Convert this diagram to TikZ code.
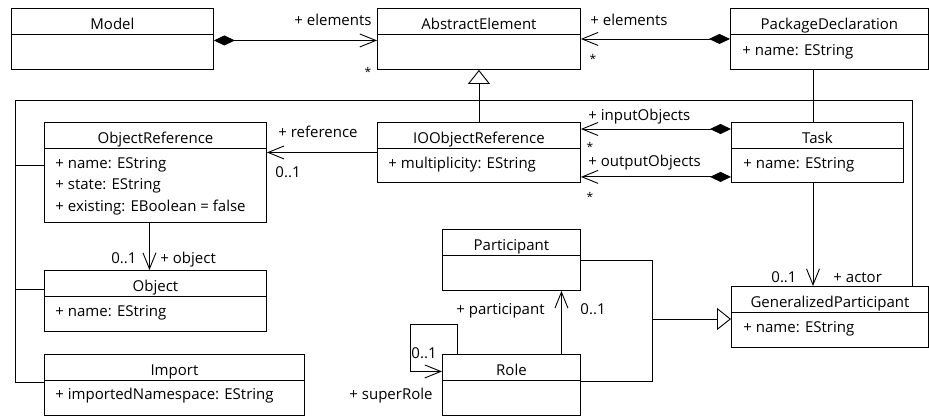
\documentclass[tikz,border=0pt]{standalone}
\usepackage{fontspec}
\setmainfont{Open Sans}
\usetikzlibrary{positioning,arrows.meta}

\begin{document}
\begin{tikzpicture}[x=1pt,y=-1pt,line width=0.9pt,
      font=\fontsize{15}{18}\selectfont,
      cls/.style args={#1/#2}{draw,anchor=north west,inner sep=0,minimum width=#1pt,minimum height=#2pt},
      clsname/.style={anchor=base,inner sep=0},
      attr/.style={anchor=base west,inner sep=0},
      lbl/.style={inner sep=0},
      mult/.style={anchor=north,inner sep=0,font=\fontsize{12}{14}\selectfont},
      comp/.style={{Diamond[length=21pt,width=10pt]}-{Straight Barb[length=16pt,width=13pt]}},
      assoc/.style={-{Straight Barb[length=16pt,width=13pt]}},
      gen/.style={-{Triangle[open,length=14pt,width=22pt]}}]
    \useasboundingbox (0,0) rectangle (929,416);
    % classes
    \node[cls=202/61] (model) at (11,8) {};
    \node[cls=203/61] (ae) at (377,8) {};
    \node[cls=198/61] (pkg) at (730,8) {};
    \node[cls=222/100] (objref) at (44,122) {};
    \node[cls=203/60] (ioref) at (377,122) {};
    \node[cls=172/60] (task) at (731,122) {};
    \node[cls=138/61] (participant) at (442,229) {};
    \node[cls=222/61] (object) at (44,270) {};
    \node[cls=197/61] (gp) at (731,286) {};
    \node[cls=260/61] (import) at (44,354) {};
    \node[cls=138/61] (role) at (442,354) {};
    \foreach \c in {model,ae,pkg,objref,ioref,task,participant,object,gp,import,role}
      \draw ([yshift=-26pt]\c.north west) -- ([yshift=-26pt]\c.north east);
    \foreach \c/\t in {model/Model,ae/AbstractElement,pkg/PackageDeclaration,objref/ObjectReference,
        ioref/IOObjectReference,task/Task,participant/Participant,object/Object,
        gp/GeneralizedParticipant,import/Import,role/Role}
      \node[clsname] (\c-name) at ([yshift=-21pt]\c.north) {\t};
    % attributes
    \node[attr] (pkg-a1) at ([xshift=12pt,yshift=-47pt]pkg.north west) {+ name: EString};
    \node[attr] (objref-a1) at ([xshift=11pt,yshift=-46pt]objref.north west) {+ name: EString};
    \node[attr] (objref-a2) at ([xshift=11pt,yshift=-67.5pt]objref.north west) {+ state: EString};
    \node[attr] (objref-a3) at ([xshift=11pt,yshift=-89pt]objref.north west) {+ existing: EBoolean = false};
    \node[attr] (ioref-a1) at ([xshift=11pt,yshift=-46pt]ioref.north west) {+ multiplicity: EString};
    \node[attr] (task-a1) at ([xshift=12pt,yshift=-46pt]task.north west) {+ name: EString};
    \node[attr] (object-a1) at ([xshift=11pt,yshift=-46pt]object.north west) {+ name: EString};
    \node[attr] (gp-a1) at ([xshift=12pt,yshift=-46pt]gp.north west) {+ name: EString};
    \node[attr] (import-a1) at ([xshift=11pt,yshift=-45pt]import.north west) {+ importedNamespace: EString};
    % generalizations
    \coordinate (busL) at (15,100);
    \coordinate (busR) at (912,100);
    \coordinate (busT) at (813,100);
    \coordinate (gj) at (652,319);
    \coordinate (or-in) at ([yshift=7pt]objref.west);
    \coordinate (ob-in) at ([yshift=11.5pt]object.west);
    \draw[gen] (ioref.north) -- (ae.south);
    \draw (busL) -- (busR) -- (busR |- gp.north);
    \draw (pkg.south -| busT) -- (task.north -| busT);
    \draw (busL) |- ([yshift=2.5pt]import.west);
    \draw (or-in) -- (or-in -| busL);
    \draw (ob-in) -- (ob-in -| busL);
    \draw (participant.east) -| (gj);
    \draw ([yshift=3.5pt]role.east) -| (gj);
    \draw[gen] (gj) -- (gj -| gp.west);
    % compositions and associations
    \coordinate (tin) at ([yshift=-7pt]task.north west);
    \coordinate (tout) at ([yshift=6pt]task.south west);
    \draw[comp] ([yshift=-1.5pt]model.east) -- ([yshift=-1.5pt]ae.west);
    \draw[comp] (pkg.west) -- (ae.east);
    \draw[comp] (tin) -- (tin -| ioref.east);
    \draw[comp] (tout) -- (tout -| ioref.east);
    \draw[assoc] (ioref.west) -- (ioref.west -| objref.east);
    \draw[assoc] ([xshift=-6pt]objref.south) -- ([xshift=-6pt]object.north);
    \draw[assoc] (task.south -| busT) -- (gp.north -| busT);
    \draw[assoc] ([xshift=50pt]role.north) -- ([xshift=50pt]participant.south);
    \draw[assoc] ([xshift=-54pt]role.north) -- ++(0,-30) -- ++(-47,0) |- ([yshift=13.5pt]role.west);
    % role names and multiplicities
    \node[lbl,anchor=base east] (l-elem1) at (372,25) {+ elements};
    \node[mult] (m-elem1) at (368,67) {*};
    \node[lbl,anchor=base west] (l-elem2) at (590,25) {+ elements};
    \node[mult] (m-elem2) at (593,54) {*};
    \node[lbl,anchor=base east] (l-ref) at (358,137) {+ reference};
    \node[lbl,anchor=base west] (m-ref) at (275,177) {0..1};
    \node[lbl,anchor=base west] (l-in) at (588,120) {+ inputObjects};
    \node[mult] (m-in) at (590,142) {*};
    \node[lbl,anchor=base west] (l-out) at (588,166) {+ outputObjects};
    \node[mult] (m-out) at (590,192) {*};
    \node[lbl,anchor=base east] (m-obj) at (137,263) {0..1};
    \node[lbl,anchor=base west] (l-obj) at (160,263) {+ object};
    \node[lbl,anchor=base east] (l-part) at (545,314) {+ participant};
    \node[lbl,anchor=base west] (m-part) at (580,314) {0..1};
    \node[lbl,anchor=base west] (m-super) at (411,358) {0..1};
    \node[lbl,anchor=base east] (l-super) at (433,399) {+ superRole};
    \node[lbl,anchor=base east] (m-actor) at (797,282) {0..1};
    \node[lbl,anchor=base west] (l-actor) at (833,282) {+ actor};
  \end{tikzpicture}
\end{document}
